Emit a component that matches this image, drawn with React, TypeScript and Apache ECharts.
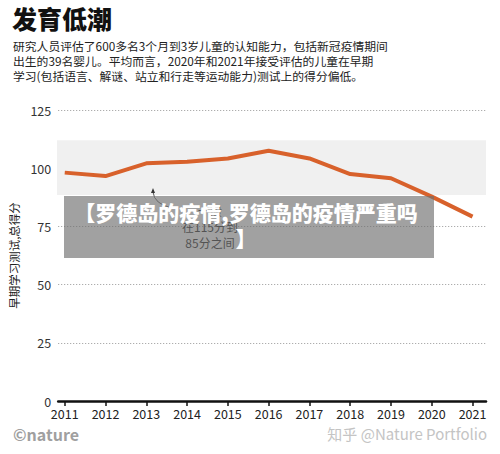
import React, { useEffect, useRef } from "react";
import * as echarts from "echarts";

const years = [2011, 2012, 2013, 2014, 2015, 2016, 2017, 2018, 2019, 2020, 2021];
const scores = [98.1, 96.6, 102.1, 102.8, 104.2, 107.5, 104.2, 97.5, 95.7, 87.8, 79.2];
const normalBand = [88.5, 112];

const title = "发育低潮";
const subtitle = [
  "研究人员评估了600多名3个月到3岁儿童的认知能力，包括新冠疫情期间",
  "出生的39名婴儿。平均而言，2020年和2021年接受评估的儿童在早期",
  "学习(包括语言、解谜、站立和行走等运动能力)测试上的得分偏低。",
];
const yAxisName = "早期学习测试,总得分";
const annotation = ["一般", "在115分到", "85分之间"];
const overlayText = ["【罗德岛的疫情,罗德岛的疫情严重吗", "】"];

const CJK = '"Noto Sans CJK SC", "Noto Sans", sans-serif';

export default function App() {
  const ref = useRef<HTMLDivElement>(null);
  useEffect(() => {
    if (!ref.current) return;
    const chart = echarts.init(ref.current, null, { renderer: "svg" });
    chart.setOption({
      animation: false,
      backgroundColor: "#ffffff",
      textStyle: { fontFamily: CJK },
      grid: { left: 57, right: 14, top: 110, bottom: 53 },
      xAxis: {
        type: "value",
        min: 2010.84,
        max: 2021.33,
        axisLine: { show: true, onZero: false, lineStyle: { color: "#111", width: 2.5 } },
        axisTick: { show: true, customValues: years, length: 5, lineStyle: { color: "#111", width: 1.5 } },
        axisLabel: {
          customValues: years,
          color: "#222",
          fontSize: 12.5,
          margin: 6,
          fontFamily: CJK,
          formatter: (v: number) => String(Math.round(v)),
        },
        splitLine: { show: false },
      },
      yAxis: {
        type: "value",
        min: 0,
        max: 125,
        interval: 25,
        axisLine: { show: false },
        axisTick: { show: false },
        axisLabel: { color: "#333", fontSize: 12.5, margin: 7, fontFamily: CJK },
        splitLine: { show: true, lineStyle: { type: [1, 2], color: "#999", width: 1 } },
        name: yAxisName,
        nameLocation: "middle",
        nameRotate: 90,
        nameGap: 31,
        nameTextStyle: { color: "#222", fontSize: 11.5, fontFamily: CJK },
      },
      series: [
        {
          type: "line",
          data: years.map((y, i) => [y, scores[i]]),
          symbol: "none",
          lineStyle: { color: "#d8612b", width: 4 },
          z: 5,
          markArea: {
            silent: true,
            itemStyle: { color: "#f0f0f0" },
            data: [[{ yAxis: normalBand[0], x: 57 }, { yAxis: normalBand[1], x: 486 }]],
          },
        },
      ],
      graphic: [
        {
          type: "text",
          left: 12,
          top: 5,
          style: { text: title, font: `900 25px ${CJK}`, fill: "#111" },
        },
        {
          type: "text",
          left: 13,
          top: 38,
          style: {
            text: subtitle.join("\n"),
            font: `11.8px ${CJK}`,
            lineHeight: 15,
            fill: "#222",
          },
        },
        {
          type: "bezierCurve",
          shape: { x1: 153, y1: 192, cpx1: 154, cpy1: 204, x2: 172, y2: 208 },
          style: { stroke: "#333", lineWidth: 0.8, fill: "none" },
          z: 10,
        },
        {
          type: "polygon",
          shape: { points: [[153, 188], [151, 193], [155, 193]] },
          style: { fill: "#333" },
          z: 10,
        },
        {
          type: "text",
          x: 210,
          y: 202,
          style: {
            text: annotation.join("\n"),
            font: `12px ${CJK}`,
            lineHeight: 16,
            fill: "#222",
            align: "center",
          },
          z: 10,
        },
        {
          type: "rect",
          shape: { x: 64, y: 196, width: 370, height: 62 },
          style: { fill: "rgba(110,110,110,0.65)" },
          z: 20,
        },
        {
          type: "text",
          x: 246,
          y: 199,
          style: {
            text: overlayText.join("\n"),
            font: `900 21px ${CJK}`,
            lineHeight: 26,
            fill: "#ffffff",
            align: "center",
          },
          z: 21,
        },
        {
          type: "text",
          left: 13,
          top: 426,
          style: { text: "©nature", font: `bold 16px ${CJK}`, fill: "#a0a0a0" },
        },
        {
          type: "text",
          right: 13,
          top: 426,
          style: { text: "知乎 @Nature Portfolio", font: `15px ${CJK}`, fill: "#c4c4c4" },
        },
      ],
    });
    return () => chart.dispose();
  }, []);
  return (
    <div
      ref={ref}
      style={{ position: "fixed", left: 0, top: 0, width: 500, height: 454 }}
    />
  );
}
